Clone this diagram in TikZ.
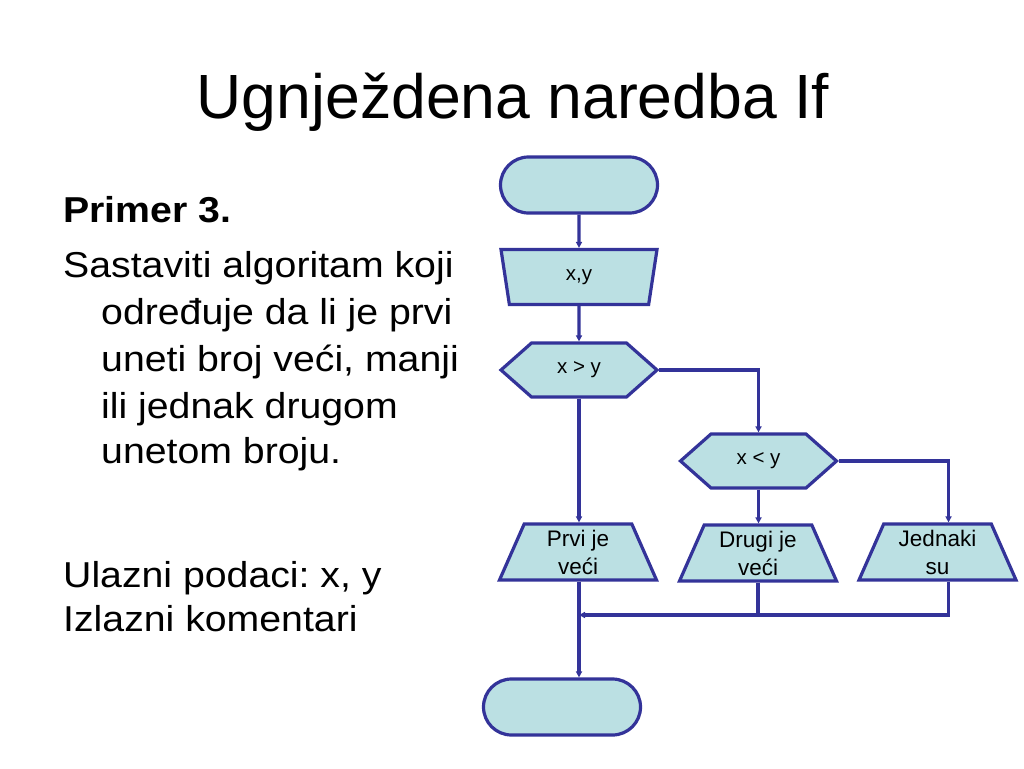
\documentclass[tikz,border=0pt]{standalone}
\usepackage{fontspec}
\setmainfont{Liberation Sans}
\newfontfamily\bodyfont[FakeStretch=1.09]{Liberation Sans}
\usetikzlibrary{shapes.geometric,shapes.misc,shapes.symbols,arrows.meta}
\definecolor{edge}{HTML}{333399}
\definecolor{boxfill}{HTML}{BBE0E3}
\frenchspacing
\begin{document}
\begin{tikzpicture}[x=1pt,y=-1pt,
  base/.style={draw=edge,fill=boxfill,line width=3.2pt,inner sep=0pt,
    font=\fontsize{20.5}{28}\selectfont,align=center},
  term/.style={base,rounded rectangle,minimum width=157pt,minimum height=56pt},
  inbox/.style={base,trapezium,shape border rotate=180,trapezium left angle=61,
    trapezium right angle=61,trapezium stretches body,minimum width=156pt,minimum height=55pt},
  outbox/.style={base,trapezium,trapezium left angle=61,trapezium right angle=61,
    trapezium stretches body,minimum width=157pt,minimum height=56pt,
    font=\fontsize{22.5}{28}\selectfont},
  decide/.style={base,signal,signal to=west and east,signal pointer angle=83,
    minimum width=156pt,minimum height=54pt},
  conn/.style={draw=edge,line width=3.2pt},
  arr/.style={conn,-{Triangle[length=6pt,width=6pt]}},
  body/.style={anchor=base west,inner sep=0pt,font=\bodyfont\fontsize{36}{44}\selectfont}
]
\useasboundingbox[fill=white] (0,0) rectangle (1024,768);

\node[anchor=base,inner sep=0pt,font=\fontsize{62.5}{75}\selectfont] (title) at (513,118) {Ugnježdena naredba If};

\node[body,font=\bodyfont\fontsize{36}{44}\selectfont\bfseries] (primer) at (63,222) {Primer 3.};
\node[body] (l1) at (63,277) {Sastaviti algoritam koji};
\node[body] (l2) at (101,324) {određuje da li je prvi};
\node[body] (l3) at (101,371) {uneti broj veći, manji};
\node[body] (l4) at (101,418) {ili jednak drugom};
\node[body] (l5) at (101,463) {unetom broju.};
\node[body] (ul) at (63,587) {Ulazni podaci: x, y};
\node[body] (iz) at (63,631) {Izlazni komentari};

\node[term] (start) at (579,185) {};
\node[inbox] (inp) at (579,277) {x,y};
\node[decide] (d1) at (579,370) {x > y};
\node[decide] (d2) at (758.5,461) {x < y};
\node[outbox] (o1) at (578,552) {Prvi je\\veći};
\node[outbox] (o2) at (758,553) {Drugi je\\veći};
\node[outbox] (o3) at (937.5,552) {Jednaki\\su};
\node[term] (end) at (562,707) {};

\coordinate (m) at (579,615);

\draw[arr] (start.south) -- (inp.north);
\draw[arr] (inp.south) -- (d1.north);
\draw[arr] (d1.south) -- (d1.south |- o1.north);
\draw[arr] (d1.east) -| (d2.north);
\draw[arr] (d2.south) -- (d2.south |- o2.north);
\draw[arr] (d2.east) -| ([xshift=11pt]o3.north);
\draw[arr] ([xshift=11pt]o3.south) |- (m);
\draw[conn] (o2.south) -- (o2.south |- m);
\draw[arr] ([xshift=1pt]o1.south) -- ([xshift=1pt]o1.south |- end.north);
\end{tikzpicture}
\end{document}
